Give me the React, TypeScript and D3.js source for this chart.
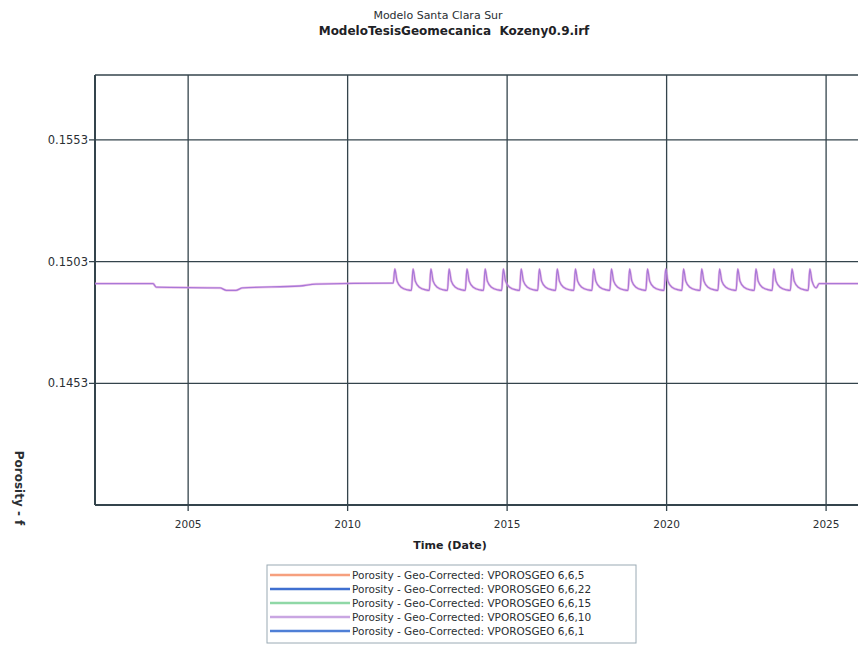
import React from "react";
import * as d3 from "d3";

const titleLines = ["Modelo Santa Clara Sur", "ModeloTesisGeomecanica\u00a0\u00a0Kozeny0.9.irf"];
const xTicks = [2005, 2010, 2015, 2020, 2025];
const yTicks = [0.1453, 0.1503, 0.1553];
const yTickLabels = ["0.1453", "0.1503", "0.1553"];
const xLabel = "Time (Date)";
const yLabel = "Porosity - f";

const legendNames = [
  "Porosity - Geo-Corrected: VPOROSGEO 6,6,5",
  "Porosity - Geo-Corrected: VPOROSGEO 6,6,22",
  "Porosity - Geo-Corrected: VPOROSGEO 6,6,15",
  "Porosity - Geo-Corrected: VPOROSGEO 6,6,10",
  "Porosity - Geo-Corrected: VPOROSGEO 6,6,1",
];
const legendColors = ["#f6a07e", "#3f6fd0", "#8fd8a6", "#c9a6e2", "#4f7fd6"];

// Series: VPOROSGEO 6,6,10 (decimal years, porosity)
const seriesDates = [
  2002.0, 2003.9, 2004.0, 2006.0, 2006.2, 2006.5, 2006.7, 2008.5, 2009.0, 2011.4,
  2011.43, 2011.48, 2011.55, 2011.68, 2011.88,
  2012.0, 2012.05, 2012.12, 2012.25, 2012.45,
  2012.56, 2012.61, 2012.68, 2012.81, 2013.01,
  2013.13, 2013.18, 2013.25, 2013.38, 2013.58,
  2013.69, 2013.74, 2013.81, 2013.94, 2014.14,
  2014.26, 2014.31, 2014.38, 2014.51, 2014.71,
  2014.83, 2014.88, 2014.95, 2015.08, 2015.28,
  2015.39, 2015.44, 2015.51, 2015.64, 2015.84,
  2015.96, 2016.01, 2016.08, 2016.21, 2016.41,
  2016.52, 2016.57, 2016.64, 2016.77, 2016.97,
  2017.09, 2017.14, 2017.21, 2017.34, 2017.54,
  2017.66, 2017.71, 2017.78, 2017.91, 2018.11,
  2018.22, 2018.27, 2018.34, 2018.47, 2018.67,
  2018.79, 2018.84, 2018.91, 2019.04, 2019.24,
  2019.35, 2019.4, 2019.47, 2019.6, 2019.8,
  2019.92, 2019.97, 2020.04, 2020.17, 2020.37,
  2020.48, 2020.53, 2020.6, 2020.73, 2020.93,
  2021.05, 2021.1, 2021.17, 2021.3, 2021.5,
  2021.61, 2021.66, 2021.73, 2021.86, 2022.06,
  2022.18, 2022.23, 2022.3, 2022.43, 2022.63,
  2022.75, 2022.8, 2022.87, 2023.0, 2023.2,
  2023.31, 2023.36, 2023.43, 2023.56, 2023.76,
  2023.88, 2023.93, 2024.0, 2024.13, 2024.33,
  2024.44, 2024.49, 2024.56, 2024.69, 2024.78, 2026.0,
];
const seriesValues = [
  0.1494, 0.1494, 0.14925, 0.14922, 0.14912, 0.14912, 0.14922, 0.1493, 0.14938, 0.14942,
  0.14942, 0.15, 0.1495, 0.14925, 0.14914,
  0.14912, 0.15, 0.1495, 0.14925, 0.14914,
  0.14912, 0.15, 0.1495, 0.14925, 0.14914,
  0.14912, 0.15, 0.1495, 0.14925, 0.14914,
  0.14912, 0.15, 0.1495, 0.14925, 0.14914,
  0.14912, 0.15, 0.1495, 0.14925, 0.14914,
  0.14912, 0.15, 0.1495, 0.14925, 0.14914,
  0.14912, 0.15, 0.1495, 0.14925, 0.14914,
  0.14912, 0.15, 0.1495, 0.14925, 0.14914,
  0.14912, 0.15, 0.1495, 0.14925, 0.14914,
  0.14912, 0.15, 0.1495, 0.14925, 0.14914,
  0.14912, 0.15, 0.1495, 0.14925, 0.14914,
  0.14912, 0.15, 0.1495, 0.14925, 0.14914,
  0.14912, 0.15, 0.1495, 0.14925, 0.14914,
  0.14912, 0.15, 0.1495, 0.14925, 0.14914,
  0.14912, 0.15, 0.1495, 0.14925, 0.14914,
  0.14912, 0.15, 0.1495, 0.14925, 0.14914,
  0.14912, 0.15, 0.1495, 0.14925, 0.14914,
  0.14912, 0.15, 0.1495, 0.14925, 0.14914,
  0.14912, 0.15, 0.1495, 0.14925, 0.14914,
  0.14912, 0.15, 0.1495, 0.14925, 0.14914,
  0.14912, 0.15, 0.1495, 0.14925, 0.14914,
  0.14912, 0.15, 0.1495, 0.14925, 0.14914,
  0.14912, 0.15, 0.1495, 0.14922, 0.1494, 0.1494,
];

const W = 858;
const H = 646;
const plot = { left: 95, right: 858, top: 75, bottom: 505 };
const gridColor = "#34444c";
const font = "DejaVu Sans, Verdana, sans-serif";
const textColor = "#2a2f33";

export default function App() {
  const x = d3.scaleLinear().domain([2002.08, 2026.0]).range([plot.left, plot.right]);
  const y = d3.scaleLinear().domain([0.1403, 0.15797]).range([plot.bottom, plot.top]);
  const pts: [number, number][] = seriesDates.map((d, i) => [d, seriesValues[i]]);
  const line = d3
    .line<[number, number]>()
    .x((d) => x(d[0]))
    .y((d) => y(d[1]))
    .curve(d3.curveMonotoneX);

  const legX = 267, legY = 565, legW = 369, legH = 78, rowH = 14;

  return (
    <svg
      width={W}
      height={H}
      style={{ position: "absolute", left: 0, top: 0, background: "#fff" }}
      fontFamily={font}
    >
      <rect width={W} height={H} fill="#fff" />
      <text x={438} y={19} textAnchor="middle" fontSize={11} fill={textColor}>
        {titleLines[0]}
      </text>
      <text x={454} y={35} textAnchor="middle" fontSize={12} fontWeight="bold" fill="#1e2226">
        {titleLines[1]}
      </text>

      <defs>
        <clipPath id="clip">
          <rect x={plot.left} y={plot.top} width={plot.right - plot.left} height={plot.bottom - plot.top} />
        </clipPath>
      </defs>

      {/* grid */}
      {xTicks.map((t) => (
        <g key={"gx" + t}>
          <line x1={x(t)} x2={x(t)} y1={plot.top} y2={plot.bottom + 6} stroke={gridColor} strokeWidth={1.3} />
          <text x={x(t)} y={528} textAnchor="middle" fontSize={10.5} fill={textColor}>
            {t}
          </text>
        </g>
      ))}
      {yTicks.map((t, i) => (
        <g key={"gy" + t}>
          <line x1={plot.left - 6} x2={plot.right} y1={y(t)} y2={y(t)} stroke={gridColor} strokeWidth={1.3} />
          <text x={plot.left - 7} y={y(t) + 4} textAnchor="end" fontSize={11.5} fill={textColor}>
            {yTickLabels[i]}
          </text>
        </g>
      ))}

      {/* frame */}
      <line x1={plot.left} x2={plot.right} y1={plot.top} y2={plot.top} stroke={gridColor} strokeWidth={1.5} />
      <line x1={plot.left} x2={plot.left} y1={plot.top} y2={plot.bottom} stroke={gridColor} strokeWidth={2} />
      <line x1={plot.left} x2={plot.right} y1={plot.bottom} y2={plot.bottom} stroke={gridColor} strokeWidth={2} />

      <g clipPath="url(#clip)">
        <path d={line(pts) || ""} fill="none" stroke="#e69ad8" strokeWidth={2.6} opacity={0.55} />
        <path d={line(pts) || ""} fill="none" stroke="#a878d8" strokeWidth={1.3} />
      </g>

      <text x={450} y={549} textAnchor="middle" fontSize={11} fontWeight="bold" fill="#1e2226">
        {xLabel}
      </text>
      <text
        transform={`translate(15,488) rotate(90)`}
        textAnchor="middle"
        fontSize={12}
        fontWeight="bold"
        fill={textColor}
      >
        {yLabel}
      </text>

      {/* legend */}
      <rect x={legX} y={legY} width={legW} height={legH} fill="#fff" stroke="#9aaab4" strokeWidth={1} />
      {legendNames.map((n, i) => {
        const yy = legY + 10 + i * rowH;
        return (
          <g key={n}>
            <line x1={legX + 3} x2={legX + 83} y1={yy} y2={yy} stroke={legendColors[i]} strokeWidth={2.5} />
            <text x={legX + 85} y={yy + 3.5} fontSize={10.5} fill={textColor}>
              {n}
            </text>
          </g>
        );
      })}
    </svg>
  );
}
